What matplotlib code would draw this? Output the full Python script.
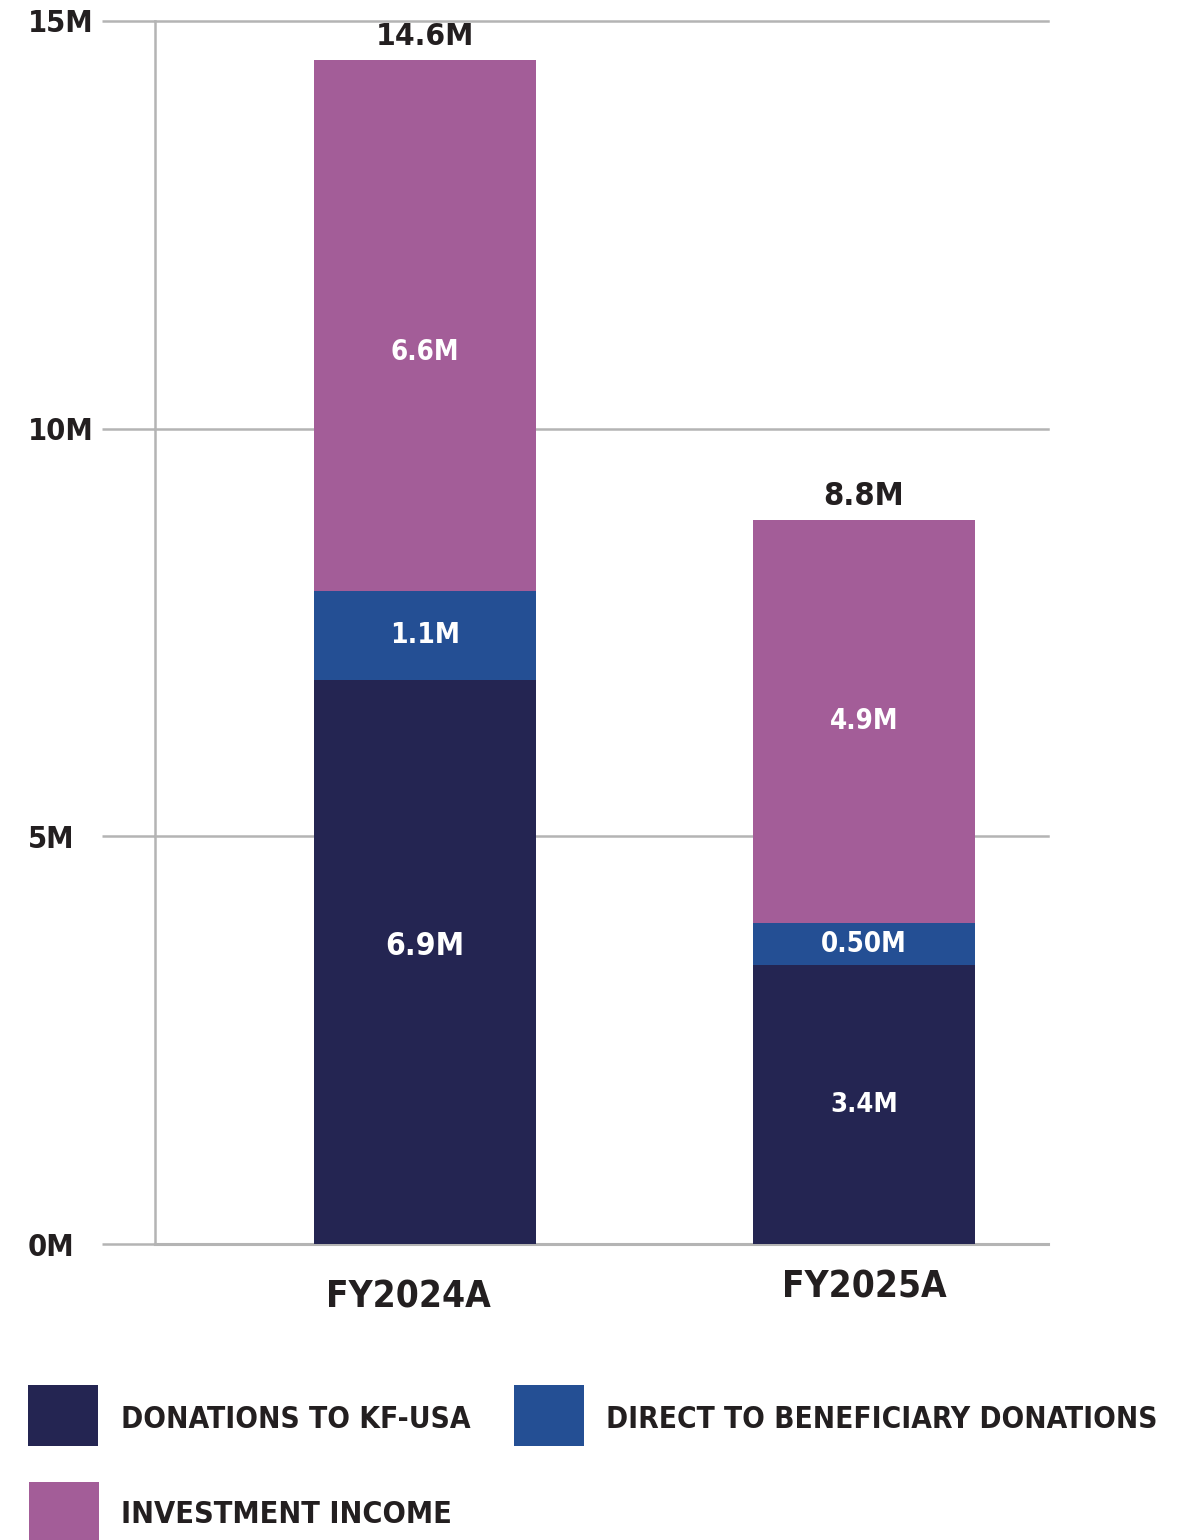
import matplotlib
matplotlib.use("Agg")
import matplotlib.pyplot as plt
from matplotlib import font_manager as fm
from matplotlib.patches import Rectangle
from matplotlib.transforms import ScaledTranslation

# ---------------- data ----------------
categories = ["FY2024A", "FY2025A"]
series_names = ["DONATIONS TO KF-USA", "DIRECT TO BENEFICIARY DONATIONS", "INVESTMENT INCOME"]
donations_kf_usa = [6.92, 3.42]
direct_to_beneficiary = [1.09, 0.52]
investment_income = [6.51, 4.94]
segment_labels = [["6.9M", "3.4M"], ["1.1M", "0.50M"], ["6.6M", "4.9M"]]
total_labels = ["14.6M", "8.8M"]
y_ticks = [0, 5, 10, 15]
y_tick_labels = ["0M", "5M", "10M", "15M"]

# ---------------- style ----------------
colors = ["#242552", "#244f94", "#a35d98"]
grid_color = "#b4b4b4"
text_color = "#231f20"

names = {f.name for f in fm.fontManager.ttflist}
if "Liberation Sans Narrow" in names:
    FAMILY, STRETCH = "Liberation Sans Narrow", "normal"
else:
    FAMILY, STRETCH = "DejaVu Sans", "condensed"
plt.rcParams["font.family"] = [FAMILY, "DejaVu Sans"]
plt.rcParams["font.stretch"] = STRETCH
plt.rcParams["font.weight"] = "bold"

W, H = 1195, 1540
def pt(cap_px):
    return cap_px / 0.72 * 0.72  # cap height -> em (pixels) -> points

fig = plt.figure(figsize=(W / 100, H / 100), dpi=100)
ax = fig.add_axes([155 / W, (H - 1244) / H, (1048 - 155) / W, (1244 - 21) / H])
ax.set_xlim(-0.615, 1.419)
ax.set_ylim(0, 15)

x = list(range(len(categories)))
series = [donations_kf_usa, direct_to_beneficiary, investment_income]
bottom = [0.0] * len(categories)
fit = []
label_offsets = {(2, 0): -26, (0, 0): 15}  # pixel nudges (positive = up)
label_caps = {(0, 0): 32}
label_widths = {(0, 0): 79, (0, 1): 68, (1, 0): 70, (1, 1): 86, (2, 0): 69, (2, 1): 69}
for si, (vals, col) in enumerate(zip(series, colors)):
    ax.bar(x, vals, width=0.506, bottom=bottom, color=col, linewidth=0, zorder=3)
    for ci, (xi, v, b) in enumerate(zip(x, vals, bottom)):
        cap = label_caps.get((si, ci), 26)
        t = ax.annotate(segment_labels[si][ci], (xi, b + v / 2),
                        xytext=(0, label_offsets.get((si, ci), 0) * 0.72),
                        textcoords="offset points", ha="center", va="center", color="white",
                        fontsize=pt(cap), zorder=4)
        fit.append((t, label_widths[(si, ci)]))
    bottom = [b + v for b, v in zip(bottom, vals)]

for xi, tot, lab, w in zip(x, bottom, total_labels, [98, 81]):
    t = ax.annotate(lab, (xi, tot), xytext=(0, 15 * 0.72), textcoords="offset points",
                    ha="center", va="baseline", color=text_color, fontsize=pt(30), zorder=4,
                    annotation_clip=False)
    fit.append((t, w))

# axes styling
ax.set_yticks(y_ticks, y_tick_labels)
ax.yaxis.grid(True, color=grid_color, linewidth=1.8)
ax.set_axisbelow(True)
for gl in ax.get_ygridlines():
    gl.set_clip_on(False)
ax.tick_params(axis="y", length=53 * 0.72, width=1.8, color=grid_color, pad=74 * 0.72,
               labelsize=pt(26), labelcolor=text_color)
for lbl in ax.get_yticklabels():
    lbl.set_horizontalalignment("left")
for s in ["top", "right"]:
    ax.spines[s].set_visible(False)
ax.spines["left"].set_color(grid_color)
ax.spines["left"].set_linewidth(1.8)
ax.spines["bottom"].set_color(grid_color)
ax.spines["bottom"].set_linewidth(2.2)

ax.set_xticks(x, categories)
ax.tick_params(axis="x", length=0, pad=40 * 0.72, labelsize=pt(37), labelcolor=text_color)
for lbl, (dx, dy) in zip(ax.get_xticklabels(), [(-17, -13), (0, -3)]):
    lbl.set_verticalalignment("center")
    lbl.set_transform(lbl.get_transform() + ScaledTranslation(dx / 100, dy / 100, fig.dpi_scale_trans))
    fit.append((lbl, 165))

# legend (manual layout)
def fx(p): return p / W
def fy(p): return 1 - p / H
legend_items = [
    (0, 28, 1385, 1446, 121, 1428, 348),
    (1, 514, 1385, 1446, 606, 1428, 549),
    (2, 29, 1482, 1545, 121, 1523, 331),
]
for si, x0, y0, y1, tx, ty, w in legend_items:
    fig.patches.append(Rectangle((fx(x0), fy(y1)), 70 / W, (y1 - y0) / H, transform=fig.transFigure,
                                 facecolor=colors[si], edgecolor="none"))
    t = fig.text(fx(tx), fy(ty), series_names[si], ha="left", va="baseline", color=text_color,
                 fontsize=pt(30))
    fit.append((t, w))

# shrink text whose width exceeds the reference width
fig.canvas.draw()
r = fig.canvas.get_renderer()
for t, tw in fit:
    w = t.get_window_extent(r).width
    if w > tw:
        t.set_fontsize(t.get_fontsize() * tw / w)

# y tick labels: one common size, fitted to the widest label
ylbls = ax.get_yticklabels()
widest = max(l.get_window_extent(r).width for l in ylbls)
ysize = pt(26) * min(1.0, 66 / widest)
ax.tick_params(axis="y", labelsize=ysize)
for lbl in ax.get_yticklabels():
    lbl.set_horizontalalignment("left")

fig.savefig("out.png", dpi=100)
